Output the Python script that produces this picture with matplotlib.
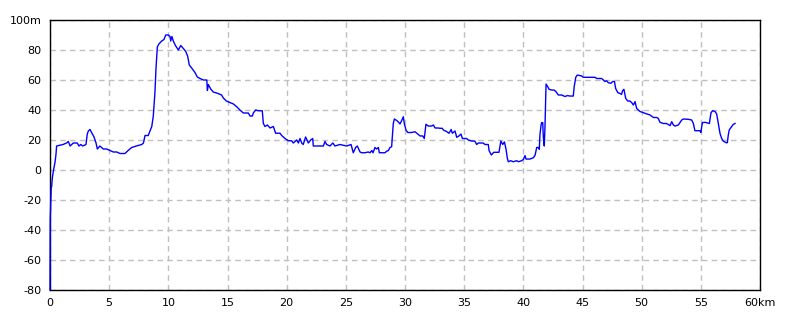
import matplotlib
matplotlib.use("Agg")
import matplotlib.pyplot as plt

# elevation profile (km, m)
dist_km = [
    0.0, 0.02, 0.1, 0.14, 0.2, 0.3, 0.42, 0.5, 0.56, 1.1, 1.4, 1.55, 1.7, 1.97,
    2.3, 2.45, 2.6, 2.76, 3.04, 3.15, 3.24, 3.38, 3.52, 3.72, 3.89, 4.0, 4.22,
    4.5, 4.79, 5.07, 5.35, 5.64, 5.92, 6.34, 6.6, 6.9, 7.3, 7.75, 7.9, 8.03,
    8.3, 8.45, 8.6, 8.73, 8.87, 8.96, 9.07, 9.2, 9.44, 9.63, 9.78, 10.0, 10.14,
    10.2, 10.3, 10.42, 10.6, 10.85, 11.05, 11.27, 11.47, 11.63, 11.77, 11.97,
    12.25, 12.45, 12.68, 12.96, 13.25, 13.3, 13.38, 13.58, 13.8, 14.2, 14.5,
    14.65, 14.9, 15.2, 15.5, 15.8, 16.05, 16.34, 16.76, 16.9, 17.1, 17.18,
    17.38, 17.6, 17.94, 18.03, 18.17, 18.37, 18.6, 18.87, 19.07, 19.44, 19.58,
    19.86, 20.14, 20.42, 20.56, 20.85, 20.99, 21.13, 21.27, 21.4, 21.6, 21.83,
    22.03, 22.2, 22.25, 23.1, 23.24, 23.38, 23.66, 23.9, 24.08, 24.5, 25.07,
    25.44, 25.63, 25.83, 25.97, 26.2, 26.34, 26.6, 26.9, 27.04, 27.2, 27.3,
    27.46, 27.6, 27.75, 27.83, 28.3, 28.45, 28.6, 28.73, 28.87, 28.93, 29.01,
    29.1, 29.3, 29.44, 29.58, 29.72, 29.86, 29.94, 30.08, 30.23, 30.56, 30.85,
    31.0, 31.27, 31.5, 31.63, 31.77, 31.97, 32.25, 32.4, 32.54, 32.8, 32.96,
    33.15, 33.24, 33.52, 33.72, 33.9, 34.0, 34.23, 34.37, 34.56, 34.73, 34.85,
    35.2, 35.35, 35.63, 35.9, 36.06, 36.2, 36.6, 36.76, 37.04, 37.1, 37.3,
    37.5, 37.94, 38.03, 38.1, 38.26, 38.4, 38.54, 38.65, 38.73, 38.93, 39.15,
    39.44, 39.58, 39.86, 40.0, 40.14, 40.23, 40.56, 40.85, 40.99, 41.13, 41.27,
    41.35, 41.4, 41.5, 41.55, 41.64, 41.69, 41.77, 41.83, 41.9, 41.92, 42.06,
    42.17, 42.4, 42.6, 42.76, 42.96, 43.24, 43.52, 43.72, 43.94, 44.22, 44.3,
    44.43, 44.56, 44.93, 45.07, 46.06, 46.2, 46.48, 46.62, 46.76, 46.9, 47.04,
    47.18, 47.4, 47.55, 47.7, 47.8, 47.98, 48.17, 48.3, 48.39, 48.5, 48.65,
    48.82, 49.0, 49.15, 49.3, 49.44, 49.58, 49.86, 50.28, 50.7, 51.0, 51.27,
    51.4, 51.55, 51.83, 52.1, 52.4, 52.54, 52.68, 52.82, 53.1, 53.24, 53.38,
    53.52, 53.94, 54.23, 54.37, 54.5, 54.93, 55.0, 55.13, 55.35, 55.72, 55.86,
    56.0, 56.2, 56.34, 56.48, 56.62, 56.76, 56.9, 57.13, 57.24, 57.32, 57.4,
    57.6, 57.74, 57.89,
]
elev_m = [
    -80, -33, -12, -11, -5, 0, 5, 10, 16, 17, 18, 19, 16, 18,
    18, 16, 17, 16, 17, 24, 26, 27, 25, 22, 18, 14, 16,
    14, 14, 13, 12, 12, 11, 11, 13, 15, 16, 17, 18, 23,
    23, 26, 29, 36, 52, 68, 82, 84, 86, 87, 90, 90, 89,
    86, 89, 86, 83, 80, 83, 81, 79, 76, 70, 68,
    65, 62, 61, 60, 60, 53, 57, 54, 52, 51, 50,
    48, 46, 45, 44, 42, 40, 38, 38, 36, 36, 38,
    40, 39.5, 39.5, 31, 29, 30, 28, 29, 24.5, 24.5, 23,
    21, 19.5, 19.5, 18, 20, 18, 21, 18, 17, 22, 18,
    20, 21, 16, 16, 19, 17, 16, 18, 16, 17, 16,
    17, 11.5, 15, 16, 12, 11.5, 11.5, 12, 11.5, 13, 11.5,
    15, 14, 15, 11.5, 11.5, 12.5, 13, 15, 15.5, 22, 31,
    34, 33, 32, 30.7, 33, 35.5, 31, 26.7, 25, 25, 25.5,
    24.5, 22.7, 22.7, 21, 30.5, 29.3, 29.3, 30, 28, 28, 27.8,
    27.8, 26.7, 25.6, 24.5, 27, 24.5, 26, 21.8, 22.7, 24, 21,
    21, 20, 19.3, 19.3, 17, 18, 18, 17, 17, 13, 10,
    11.8, 11.8, 16, 19.3, 17, 18.7, 13.8, 7.8, 5.5, 6.2, 5.5,
    6.2, 5.5, 6.2, 7, 9.6, 7.3, 7.3, 8.2, 9.8, 15, 15,
    13.8, 23.3, 30, 31.6, 31.6, 21.8, 16, 29, 50, 57.3, 55.6,
    53.8, 53.3, 53.3, 52.2, 50, 50, 49, 49.6, 49.3, 49.3, 55.6,
    61.8, 63.3, 62.7, 61.8, 61.8, 61, 61, 61, 60, 59, 59.5,
    58.2, 57.8, 59, 59, 54.4, 51.6, 51, 50.4, 52.9, 53.8, 47.8,
    46, 46, 45, 43.3, 45.6, 41, 39, 37.8, 36.7, 35, 35,
    34.4, 31.8, 31, 31, 29.6, 32.2, 30, 29.3, 30, 31.6, 33.3,
    34, 33.8, 33.3, 31, 26.2, 26.2, 25, 31.6, 31.8, 31, 38.2,
    39.5, 39, 37.3, 31, 24.4, 21, 19.3, 18.2, 18.2, 23.3, 26.7,
    28.9, 30.4, 31,
]

x_ticks = [0, 5, 10, 15, 20, 25, 30, 35, 40, 45, 50, 55, 60]
x_labels = ["0", "5", "10", "15", "20", "25", "30", "35", "40", "45", "50", "55", "60km"]
y_ticks = [-80, -60, -40, -20, 0, 20, 40, 60, 80, 100]
y_labels = ["-80", "-60", "-40", "-20", "0", "20", "40", "60", "80", "100m"]


def main():
    fig = plt.figure(figsize=(8, 3.2), dpi=100)
    ax = fig.add_axes([50 / 800, 30 / 320, 710 / 800, 270 / 320])

    # line sits on top of the left spine, like the reference
    ax.plot(dist_km, elev_m, color="#0000ff", linewidth=1, zorder=3, clip_on=False)

    ax.set_xlim(0, 60)
    ax.set_ylim(-80, 100)
    ax.set_xticks(x_ticks)
    ax.set_xticklabels(x_labels)
    ax.set_yticks(y_ticks)
    ax.set_yticklabels(y_labels)
    ax.tick_params(length=0, pad=6, labelsize=8, colors="black")

    ax.grid(True, color="#c0c0c0", linestyle=(0, (4, 3)), linewidth=1)
    ax.set_axisbelow(True)
    for sp in ax.spines.values():
        sp.set_color("black")
        sp.set_linewidth(1)
        sp.set_zorder(2.5)

    fig.savefig("out.png", dpi=100)


if __name__ == "__main__":
    main()
